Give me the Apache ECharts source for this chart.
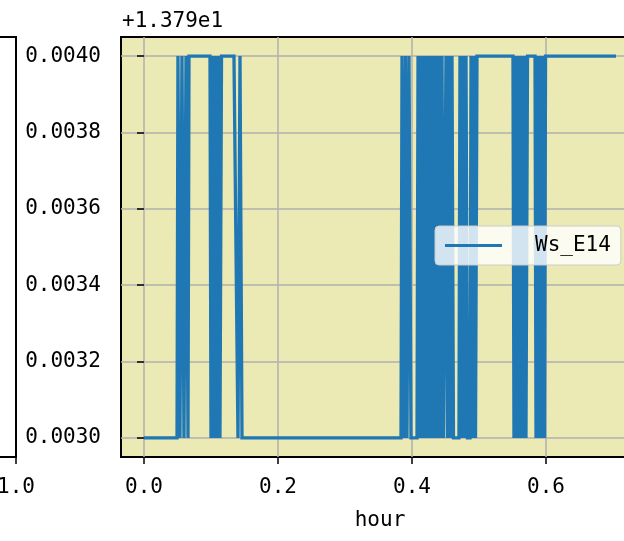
<!DOCTYPE html>
<html>
<head>
<meta charset="utf-8">
<script src="https://cdn.jsdelivr.net/npm/echarts@6/dist/echarts.min.js"></script>
<style>
html,body{margin:0;padding:0;background:#fff;overflow:hidden;width:624px;height:541px;}
#chart{position:absolute;left:-500px;top:0;width:1160px;height:541px;}
</style>
</head>
<body>
<div id="chart"></div>
<script>
// ---- data (values shown relative to offset +1.379e1) ----
const seriesName = 'Ws_E14';
const offsetText = '+1.379e1';
const hours = [
  0.0000, 0.0493, 0.0507, 0.0537, 0.0567, 0.0597, 0.0627, 0.0657, 0.0672,
  0.0985, 0.1000, 0.1022, 0.1045, 0.1067, 0.1090, 0.1112, 0.1134, 0.1157,
  0.1343, 0.1403, 0.1433, 0.1463,
  0.3836, 0.3851, 0.3881, 0.3903, 0.3925, 0.3955, 0.3985, 0.4075,
  0.4090, 0.4112, 0.4134, 0.4157, 0.4179, 0.4201, 0.4224, 0.4246, 0.4269,
  0.4291, 0.4313, 0.4336, 0.4358, 0.4381, 0.4403, 0.4425, 0.4448, 0.4470,
  0.4507, 0.4530, 0.4552, 0.4575, 0.4597, 0.4619,
  0.4701, 0.4716, 0.4739, 0.4761, 0.4784, 0.4806, 0.4828, 0.4866,
  0.4881, 0.4903, 0.4925, 0.4948, 0.4970,
  0.5507, 0.5522, 0.5545, 0.5567, 0.5590, 0.5612, 0.5634, 0.5657, 0.5679, 0.5701, 0.5724,
  0.5836, 0.5851, 0.5873, 0.5896, 0.5918, 0.5940, 0.5963, 0.5978, 0.5993,
  0.7045
];
const ws = [
  0.0030, 0.0030, 0.0040, 0.0030, 0.0040, 0.0030, 0.0040, 0.0030, 0.0040,
  0.0040, 0.0030, 0.0040, 0.0030, 0.0040, 0.0030, 0.0040, 0.0030, 0.0040,
  0.0040, 0.0030, 0.0040, 0.0030,
  0.0030, 0.0040, 0.0030, 0.0040, 0.0030, 0.0040, 0.0030, 0.0030,
  0.0040, 0.0030, 0.0040, 0.0030, 0.0040, 0.0030, 0.0040, 0.0030, 0.0040,
  0.0030, 0.0040, 0.0030, 0.0040, 0.0030, 0.0040, 0.0030, 0.0040, 0.0030,
  0.0040, 0.0030, 0.0040, 0.0030, 0.0040, 0.0030,
  0.0030, 0.0040, 0.0030, 0.0040, 0.0030, 0.0040, 0.0030, 0.0030,
  0.0040, 0.0030, 0.0040, 0.0030, 0.0040,
  0.0040, 0.0030, 0.0040, 0.0030, 0.0040, 0.0030, 0.0040, 0.0030, 0.0040, 0.0030, 0.0040,
  0.0040, 0.0030, 0.0040, 0.0030, 0.0040, 0.0030, 0.0040, 0.0030, 0.0040,
  0.0040
];
const xTicks = [0.0, 0.2, 0.4, 0.6];
const yTicks = [0.0030, 0.0032, 0.0034, 0.0036, 0.0038, 0.0040];
const leftXTicks = [0.0, 0.2, 0.4, 0.6, 0.8, 1.0];

// ---- styling ----
const FONT = 'DejaVu Sans Mono';
const FS = 21;
const SHIFT = 500; // chart div is shifted 500px to the left of the window
const chart = echarts.init(document.getElementById('chart'), null, {renderer: 'canvas'});
const txt = {color: '#000', fontFamily: FONT, fontSize: FS};

chart.setOption({
  animation: false,
  backgroundColor: '#fff',
  title: {
    text: offsetText, left: SHIFT + 117, top: 6,
    textStyle: {color: '#000', fontFamily: FONT, fontSize: FS, fontWeight: 'normal'}
  },
  legend: {
    data: [seriesName],
    left: SHIFT + 435, top: 226,
    padding: [9, 10, 9, 10],
    backgroundColor: 'rgba(255,255,255,0.8)',
    borderColor: '#cccccc', borderWidth: 1, borderRadius: 4,
    icon: 'rect', itemWidth: 57, itemHeight: 3,
    itemStyle: {color: '#1f77b4'},
    textStyle: Object.assign({}, txt, {padding: [0, 0, 0, 28]})
  },
  grid: [
    {left: SHIFT + 121, top: 37, width: 518, height: 420, show: true,
     backgroundColor: '#EBE9B4', borderColor: '#000', borderWidth: 2},
    {left: SHIFT - 484, top: 37, width: 500, height: 420, show: true,
     backgroundColor: '#fff', borderColor: '#000', borderWidth: 2}
  ],
  xAxis: [
    {gridIndex: 0, type: 'value', min: -0.0343, max: 0.7388,
     axisLine: {show: false},
     axisTick: {show: true, customValues: xTicks, length: 7, lineStyle: {color: '#000', width: 1.5}},
     axisLabel: Object.assign({customValues: xTicks, margin: 20, formatter: v => v.toFixed(1)}, txt),
     splitLine: {show: true, lineStyle: {color: '#b0b0b0', width: 1.5}},
     name: 'hour', nameLocation: 'middle', nameGap: 53, nameTextStyle: txt},
    {gridIndex: 1, type: 'value', min: 0, max: 1,
     axisLine: {show: false},
     axisTick: {show: true, customValues: leftXTicks, length: 7, lineStyle: {color: '#000', width: 1.5}},
     axisLabel: Object.assign({customValues: leftXTicks, margin: 20, showMaxLabel: true, formatter: v => v.toFixed(1)}, txt),
     splitLine: {show: false}}
  ],
  yAxis: [
    {gridIndex: 0, type: 'value', min: 0.00295, max: 0.00405,
     axisLine: {show: false},
     axisTick: {show: true, customValues: yTicks, length: 7, lineStyle: {color: '#000', width: 1.5}},
     axisLabel: Object.assign({customValues: yTicks, margin: 20, formatter: v => v.toFixed(4)}, txt),
     splitLine: {show: true, lineStyle: {color: '#b0b0b0', width: 1.5}}},
    {gridIndex: 1, type: 'value', min: 0, max: 1, show: false}
  ],
  series: [{
    name: seriesName, type: 'line', xAxisIndex: 0, yAxisIndex: 0,
    data: hours.map((h, i) => [h, ws[i]]),
    symbol: 'none', showSymbol: false,
    lineStyle: {color: '#1f77b4', width: 3.3, join: 'miter'},
    itemStyle: {color: '#1f77b4'}
  }]
});
</script>
</body>
</html>
